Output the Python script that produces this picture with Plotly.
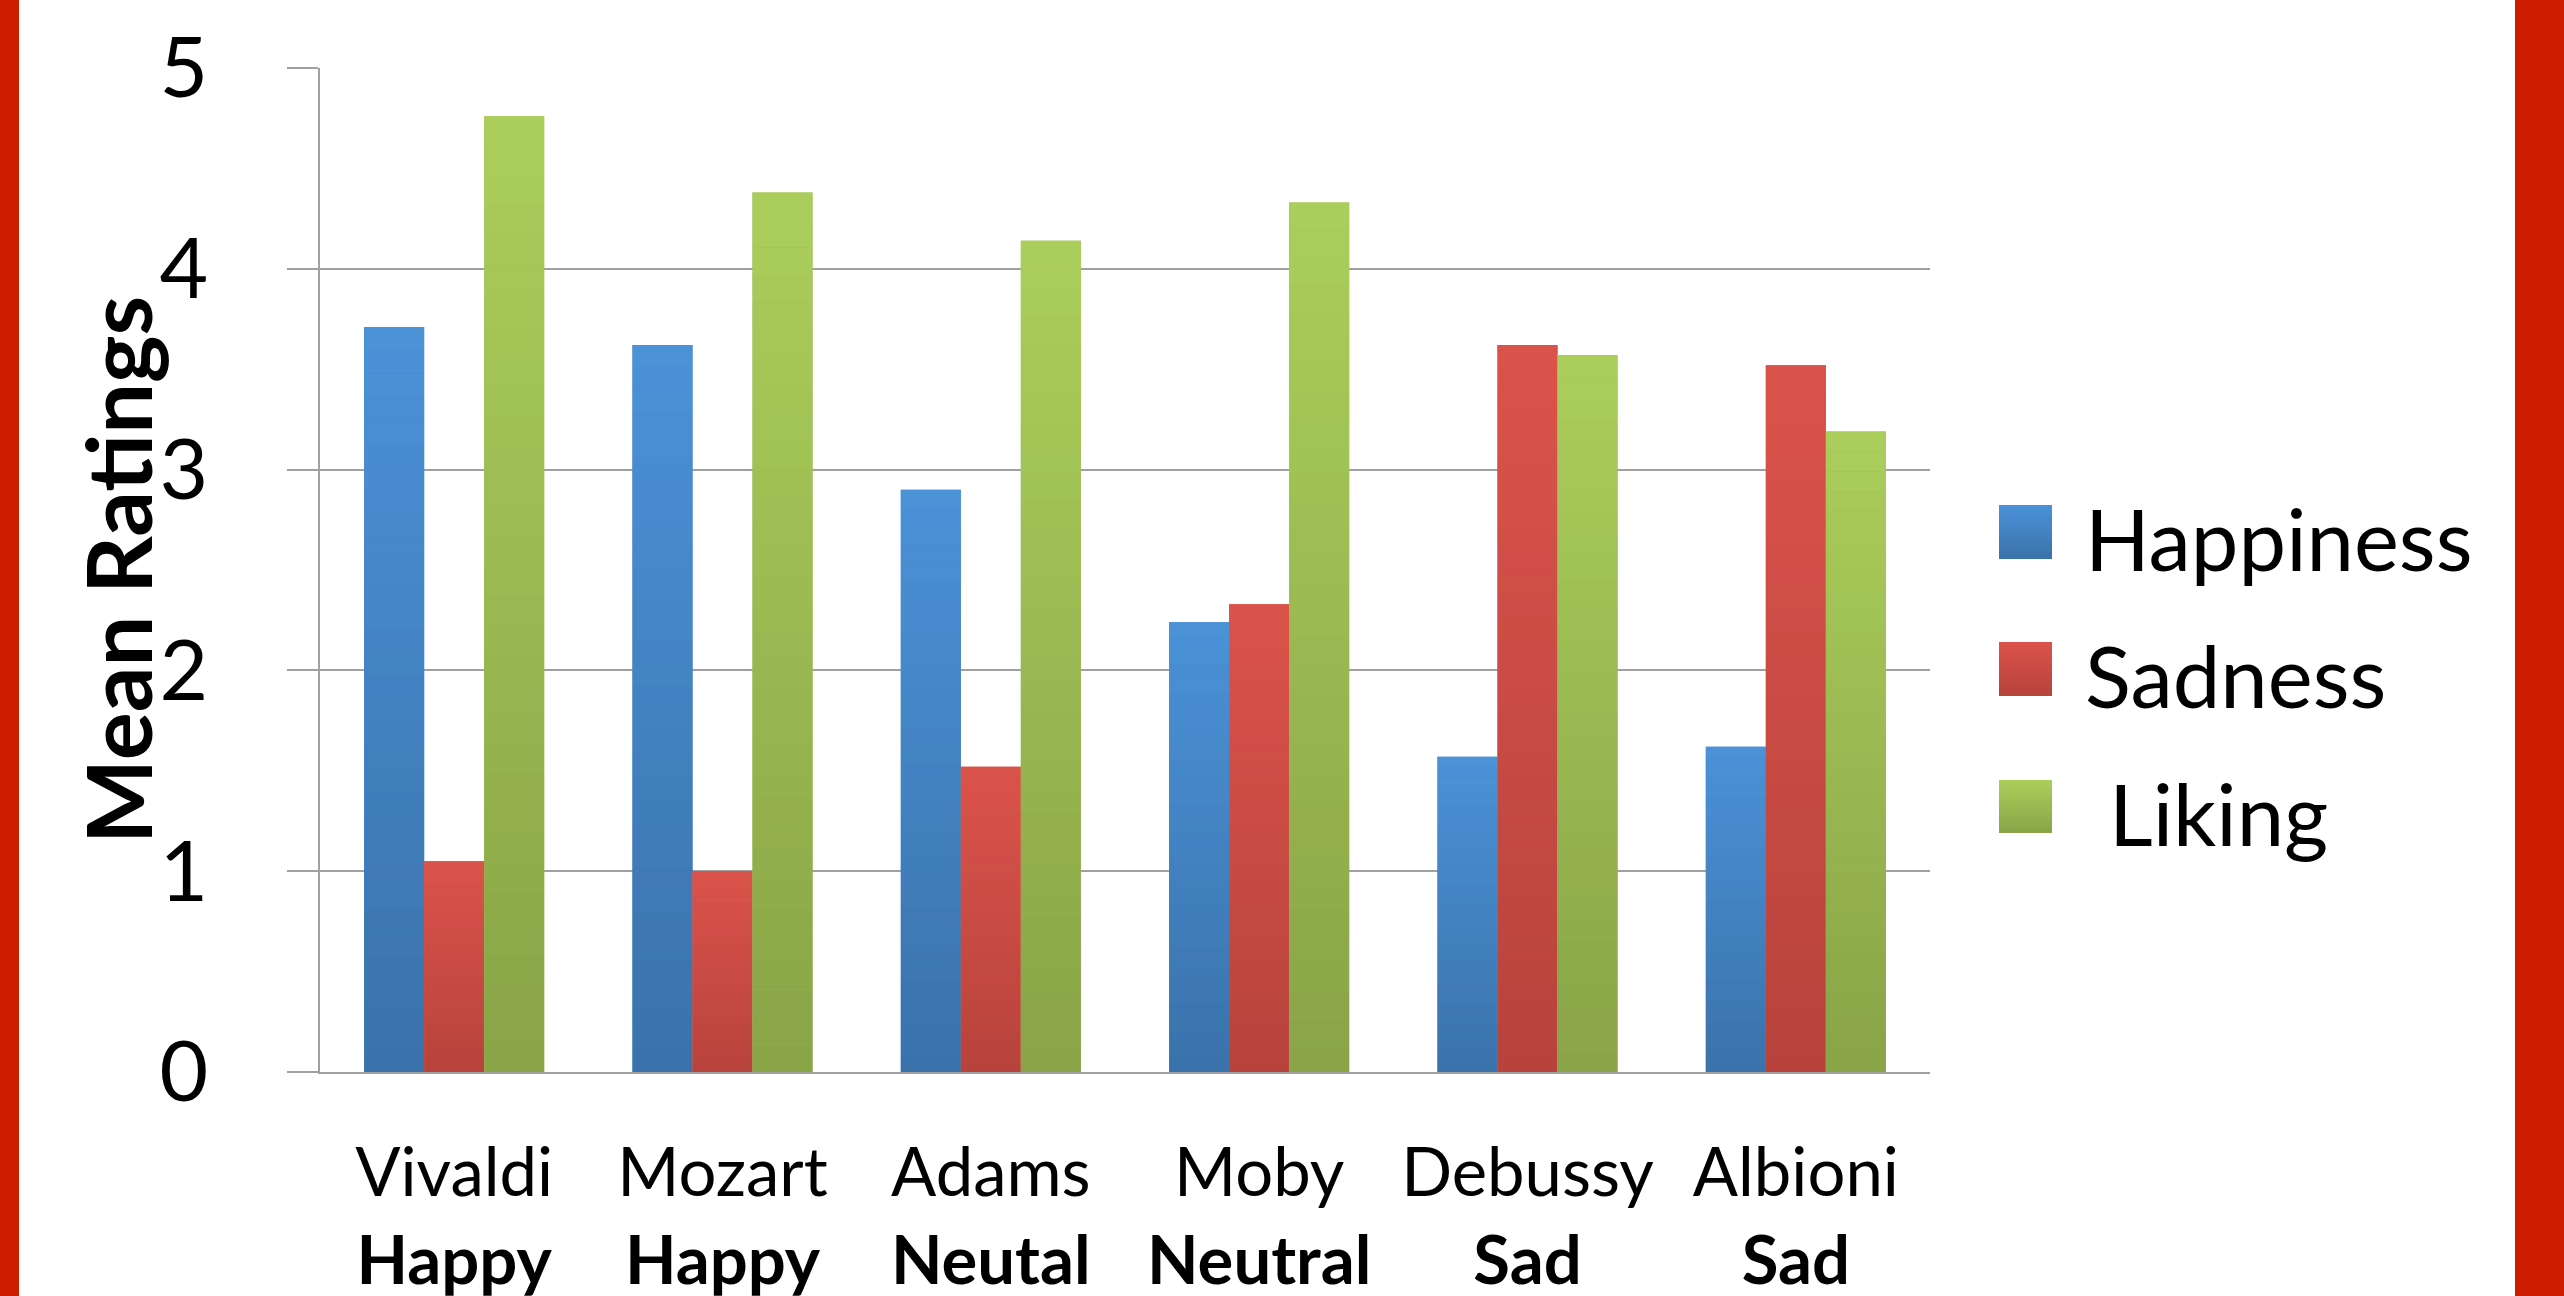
import plotly.graph_objects as go

# ---- data -------------------------------------------------------------
composers = ["Vivaldi", "Mozart", "Adams", "Moby", "Debussy", "Albioni"]
moods = ["Happy", "Happy", "Neutal", "Neutral", "Sad", "Sad"]
happiness = [3.71, 3.62, 2.90, 2.24, 1.57, 1.62]
sadness = [1.05, 1.00, 1.52, 2.33, 3.62, 3.52]
liking = [4.76, 4.38, 4.14, 4.33, 3.57, 3.19]
series_names = ["Happiness", "Sadness", "Liking"]
y_ticks = [0, 1, 2, 3, 4, 5]

# ---- page geometry (pixels) -------------------------------------------
W, H = 2564, 1296
M_L, M_R, M_T, M_B = 320, 634, 68, 224
PW, PH = W - M_L - M_R, H - M_T - M_B


def px_x(px):
    return (px - M_L) / PW


def px_y(py):
    return (H - M_B - py) / PH


# top / bottom colours of each series' vertical gradient
gradients = [
    ((75, 146, 216), (58, 114, 170)),   # Happiness
    ((219, 83, 75), (183, 67, 60)),     # Sadness
    ((172, 206, 91), (136, 164, 71)),   # Liking
]
FONT = "Lato"
GRID = "#a0a0a0"
N_STEPS = 32


def mix(c_top, c_bot, t):
    r, g, b = (round(a + (bb - a) * t) for a, bb in zip(c_top, c_bot))
    return f"rgb({r},{g},{b})"


fig = go.Figure()
series_values = [happiness, sadness, liking]

for name, vals, (top, bot) in zip(series_names, series_values, gradients):
    # the real bar, coloured with the gradient's mid tone
    fig.add_trace(go.Bar(
        name=name, x=composers, y=vals, offsetgroup=name,
        marker=dict(color=mix(top, bot, 0.5), line=dict(width=0)),
        showlegend=False,
    ))
    # vertical shading laid over each bar, darker towards the base
    for k in range(N_STEPS):
        t = 1 - (k + 0.5) / N_STEPS
        fig.add_trace(go.Bar(
            x=composers,
            y=[v / N_STEPS for v in vals],
            base=[v * k / N_STEPS for v in vals],
            offsetgroup=name,
            marker=dict(color=mix(top, bot, t), line=dict(width=0)),
            showlegend=False, hoverinfo="skip",
        ))

shapes = []
annotations = []

# red page bands on both sides
for x0, x1 in [(0, 19), (2515, W)]:
    shapes.append(dict(type="rect", xref="paper", yref="paper",
                       x0=px_x(x0), x1=px_x(x1), y0=px_y(H), y1=px_y(0),
                       fillcolor="#cd1c00", line=dict(width=0), layer="below"))

# legend: gradient swatches and labels
legend_rows = [(505, 559), (642, 696), (780, 833)]
for name, (top, bot), (y0, y1) in zip(series_names, gradients, legend_rows):
    steps = 16
    for k in range(steps):
        ya = y0 + (y1 - y0) * k / steps
        # each stripe runs to the swatch bottom; the next one paints over it
        shapes.append(dict(type="rect", xref="paper", yref="paper",
                           x0=px_x(1999), x1=px_x(2052),
                           y0=px_y(y1), y1=px_y(ya),
                           fillcolor=mix(top, bot, (k + 0.5) / steps),
                           line=dict(width=0)))
    label_x = 2107 if name == "Liking" else 2083
    annotations.append(dict(
        xref="paper", yref="paper", x=px_x(label_x), y=px_y((y0 + y1) / 2 + 6),
        xanchor="left", yanchor="middle", showarrow=False, text=name,
        font=dict(family=FONT, size=85, color="black")))

# y-axis title
annotations.append(dict(
    xref="paper", yref="paper", x=px_x(117), y=px_y(570),
    xanchor="center", yanchor="middle", showarrow=False, textangle=-90,
    text="<b>Mean Ratings</b>", font=dict(family=FONT, size=90, color="black")))

fig.update_layout(
    width=W, height=H,
    margin=dict(l=M_L, r=M_R, t=M_T, b=M_B, pad=0, autoexpand=False),
    paper_bgcolor="white", plot_bgcolor="white",
    barmode="group", bargap=0.329, bargroupgap=0,
    showlegend=False,
    shapes=shapes, annotations=annotations,
    font=dict(family=FONT, color="black"),
)

fig.update_xaxes(
    type="category", tickvals=composers,
    ticktext=[f"{c}<br><b>{m}</b>" for c, m in zip(composers, moods)],
    tickfont=dict(family=FONT, size=67, color="black"),
    showline=True, linecolor=GRID, linewidth=2, ticks="",
    showgrid=False, ticklabelstandoff=42, automargin=False,
)

fig.update_yaxes(
    range=[0, 5], tickvals=y_ticks, ticktext=[str(v) for v in y_ticks],
    tickfont=dict(family=FONT, size=84, color="black"),
    showgrid=True, gridcolor=GRID, gridwidth=2, zeroline=False,
    showline=True, linecolor=GRID, linewidth=2,
    ticks="outside", ticklen=31, tickwidth=2, tickcolor=GRID,
    ticklabelstandoff=62, automargin=False,
)

fig.write_html("out.html", config={"displayModeBar": False})
